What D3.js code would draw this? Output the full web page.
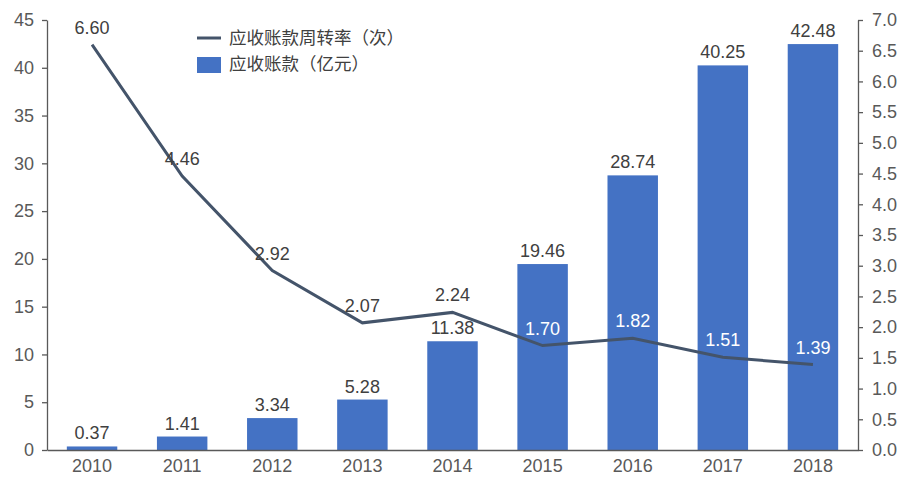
<!DOCTYPE html>
<html>
<head>
<meta charset="utf-8">
<script src="https://cdn.jsdelivr.net/npm/d3@7"></script>
<style>
  body { margin: 0; background: #fff; }
  svg { font-family: "Liberation Sans", "Noto Sans CJK SC", sans-serif; }
</style>
</head>
<body>
<svg id="chart" width="917" height="493"></svg>
<script>
// 数据
const years = ["2010", "2011", "2012", "2013", "2014", "2015", "2016", "2017", "2018"];
const receivables = [0.37, 1.41, 3.34, 5.28, 11.38, 19.46, 28.74, 40.25, 42.48]; // 应收账款（亿元）
const turnover = [6.60, 4.46, 2.92, 2.07, 2.24, 1.70, 1.82, 1.51, 1.39]; // 应收账款周转率（次）
const leftTicks = [0, 5, 10, 15, 20, 25, 30, 35, 40, 45];
const rightTicks = [0, 0.5, 1, 1.5, 2, 2.5, 3, 3.5, 4, 4.5, 5, 5.5, 6, 6.5, 7];

const svg = d3.select("#chart");
const plotLeft = 47, plotRight = 858, plotTop = 20, plotBottom = 450;
const axisColor = "#595959";
const fontSize = "18px";

const x = d3.scaleBand().domain(years).range([plotLeft, plotRight]).paddingInner(0.44).paddingOuter(0.22);
const yL = d3.scaleLinear().domain([0, 45]).range([plotBottom, plotTop]);
const yR = d3.scaleLinear().domain([0, 7]).range([plotBottom, plotTop]);

// 柱状图
svg.append("g")
  .selectAll("rect")
  .data(years)
  .enter()
  .append("rect")
  .attr("x", (d) => x(d))
  .attr("y", (d, i) => yL(receivables[i]))
  .attr("width", x.bandwidth())
  .attr("height", (d, i) => plotBottom - yL(receivables[i]))
  .attr("fill", "#4472C4");

// 左轴
const axisL = svg.append("g")
  .attr("transform", `translate(${plotLeft},0)`)
  .call(d3.axisLeft(yL).tickValues(leftTicks).tickSize(5).tickSizeOuter(0).tickFormat(d3.format("d")));

// 右轴
const axisR = svg.append("g")
  .attr("transform", `translate(${plotRight},0)`)
  .call(d3.axisRight(yR).tickValues(rightTicks).tickSize(5).tickSizeOuter(0).tickFormat(d3.format(".1f")));

// 底轴
const axisB = svg.append("g")
  .attr("transform", `translate(0,${plotBottom})`)
  .call(d3.axisBottom(x).tickSize(0).tickPadding(9));

[axisL, axisR, axisB].forEach((a) => {
  a.selectAll("path, line").attr("stroke", axisColor).attr("stroke-width", 1.3);
  a.selectAll("text").attr("fill", "#595959").style("font-size", fontSize);
});
axisL.selectAll("text").attr("x", -13);
axisR.selectAll("text").attr("x", 14);

// 折线
const cx = (d) => x(d) + x.bandwidth() / 2;
const line = d3.line()
  .x((d, i) => cx(years[i]))
  .y((d) => yR(d));

svg.append("path")
  .datum(turnover)
  .attr("d", line)
  .attr("fill", "none")
  .attr("stroke", "#44546A")
  .attr("stroke-width", 3);

// 柱标签
svg.append("g")
  .selectAll("text")
  .data(years)
  .enter()
  .append("text")
  .attr("x", (d) => cx(d))
  .attr("y", (d, i) => yL(receivables[i]) - 7)
  .attr("text-anchor", "middle")
  .attr("fill", "#404040")
  .style("font-size", fontSize)
  .text((d, i) => receivables[i].toFixed(2));

// 折线标签
svg.append("g")
  .selectAll("text")
  .data(years)
  .enter()
  .append("text")
  .attr("x", (d) => cx(d))
  .attr("y", (d, i) => yR(turnover[i]) - 11)
  .attr("text-anchor", "middle")
  .attr("fill", (d, i) => (i >= 5 ? "#ffffff" : "#404040"))
  .style("font-size", fontSize)
  .text((d, i) => turnover[i].toFixed(2));

// 图例
const legend = svg.append("g").attr("transform", "translate(197,38)");
legend.append("line")
  .attr("x1", 0).attr("x2", 24).attr("y1", 0).attr("y2", 0)
  .attr("stroke", "#44546A").attr("stroke-width", 3);
legend.append("text")
  .attr("x", 32).attr("y", 6)
  .attr("fill", "#404040").style("font-size", "17.5px")
  .text("应收账款周转率（次）");
legend.append("rect")
  .attr("x", 0).attr("y", 19).attr("width", 24).attr("height", 16)
  .attr("fill", "#4472C4");
legend.append("text")
  .attr("x", 32).attr("y", 32)
  .attr("fill", "#404040").style("font-size", "17.5px")
  .text("应收账款（亿元）");
</script>
</body>
</html>
